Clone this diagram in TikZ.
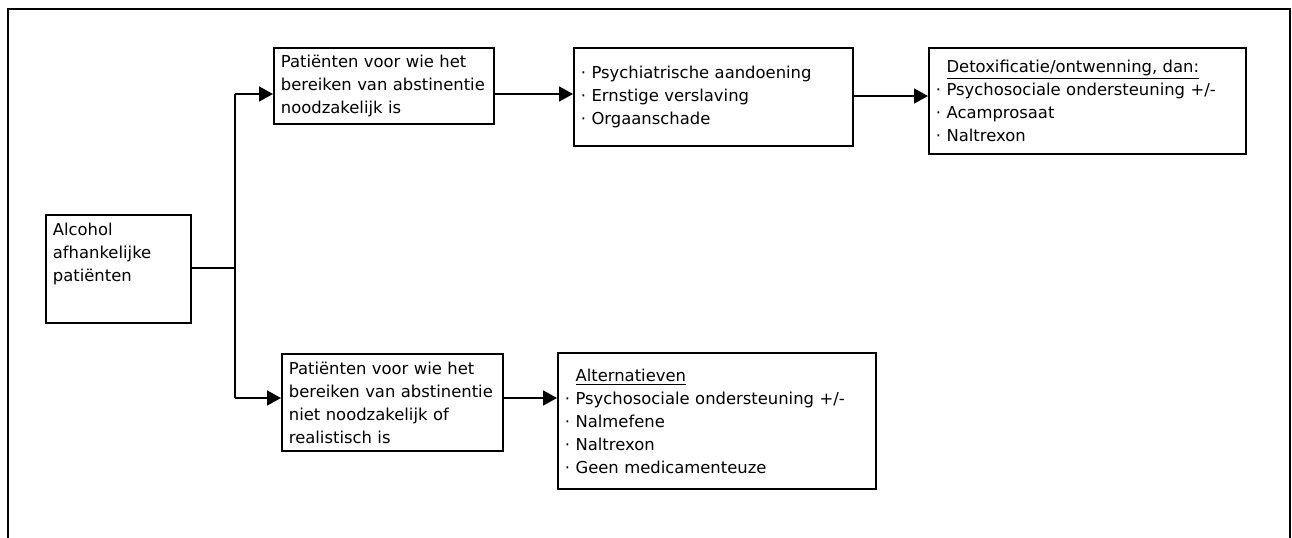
\documentclass[tikz,border=0pt]{standalone}
\usepackage{fontspec}
\setmainfont{DejaVu Sans}
\usetikzlibrary{arrows.meta}

\newcommand{\bul}{·\ }

\tikzset{
  box/.style={draw, line width=0.9pt, anchor=north west, align=left,
    inner xsep=3.5pt, inner ysep=3pt, font=\fontsize{8.2}{11.5}\selectfont},
  link/.style={line width=0.9pt},
  arrowlink/.style={link, -{Triangle[length=7pt,width=7.5pt]}}
}

\begin{document}
\begin{tikzpicture}[x=0.5pt, y=-0.5pt]
    % Fix the page size
    \useasboundingbox (0,0) rectangle (1292,537);

    % Draw outer frame (open at the bottom)
    \draw[link] (8,540) -- (8,9) -- (1290,9) -- (1290,540);

    % Draw boxes
    \node[box, text width=65.5pt, minimum height=54pt] (alc) at (45,214)
        {\parbox[t][46pt][t]{65.5pt}{Alcohol\\afhankelijke\\patiënten}};
    \node[box, text width=103pt, minimum height=38pt] (need) at (273,47)
        {Patiënten voor wie het\\bereiken van abstinentie\\noodzakelijk is};
    \node[box, text width=132.5pt, minimum height=49pt] (cond) at (573,47)
        {\bul Psychiatrische aandoening\\\bul Ernstige verslaving\\\bul Orgaanschade};
    \node[box, text width=151.5pt, minimum height=53pt] (detox) at (928,47)
        {\hphantom{\bul}\underline{Detoxificatie/ontwenning, dan:}\\
         \bul Psychosociale ondersteuning +/-\\\bul Acamprosaat\\\bul Naltrexon};
    \node[box, text width=103.5pt, minimum height=48.5pt] (noneed) at (281,353)
        {Patiënten voor wie het\\bereiken van abstinentie\\niet noodzakelijk of\\realistisch is};
    \node[box, text width=152pt, minimum height=68pt] (alt) at (557,352)
        {\hphantom{\bul}\underline{Alternatieven}\\\bul Psychosociale ondersteuning +/-\\
         \bul Nalmefene\\\bul Naltrexon\\\bul Geen medicamenteuze};

    % Branch points
    \coordinate (split) at (235,268);
    \coordinate (up) at (235,94);
    \coordinate (down) at (235,398);

    % Draw connectors
    \draw[link] (alc.east |- split) -- (split);
    \draw[link] (up) -- (down);
    \draw[arrowlink] (up) -- (up -| need.west);
    \draw[arrowlink] (down) -- (down -| noneed.west);
    \draw[arrowlink] (need.east |- up) -- (cond.west |- up);
    \draw[arrowlink] (cond.east |- 0,96) -- (detox.west |- 0,96);
    \draw[arrowlink] (noneed.east |- down) -- (alt.west |- down);
\end{tikzpicture}
\end{document}
